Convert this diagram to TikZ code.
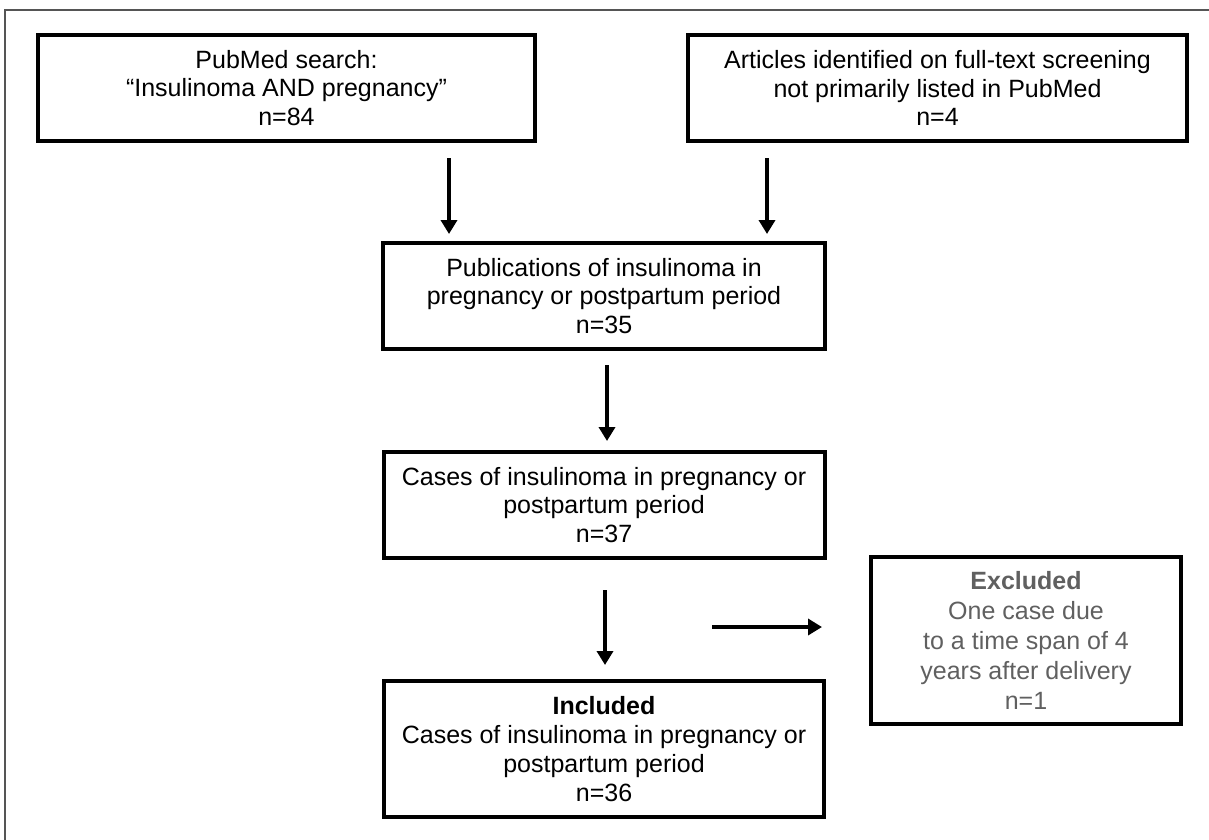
\documentclass[tikz,border=0pt]{standalone}
\usepackage{fontspec}
\setmainfont{Liberation Sans}
\usetikzlibrary{arrows.meta}
\definecolor{exgray}{HTML}{606060}
\definecolor{framegray}{HTML}{555555}
\tikzset{
  flowbox/.style={draw=black, line width=4pt, rectangle, inner sep=0pt, align=center,
    font=\fontsize{25pt}{28.75pt}\selectfont},
  arr/.style={line width=4pt, -{Triangle[length=14pt,width=16pt]}},
}
\begin{document}
\begin{tikzpicture}[x=1pt,y=-1pt]
\useasboundingbox (0,0) rectangle (1209,839);
\draw[framegray, line width=1.5pt] (5,845) -- (5,10) -- (1215,10);

\node[flowbox, minimum width=497pt, minimum height=106pt] (b1) at (286.5,88)
  {PubMed search:\\“Insulinoma AND pregnancy”\\n=84};
\node[flowbox, minimum width=499pt, minimum height=106pt] (b2) at (937.5,88)
  {Articles identified on full-text screening\\not primarily listed in PubMed\\n=4};
\node[flowbox, minimum width=442pt, minimum height=106pt] (b3) at (604,296)
  {Publications of insulinoma in\\pregnancy or postpartum period\\n=35};
\node[flowbox, minimum width=441pt, minimum height=106pt] (b4) at (604,505)
  {Cases of insulinoma in pregnancy or\\postpartum period\\n=37};
\node[flowbox, minimum width=440pt, minimum height=136pt] (b5) at (604,749)
  {\textbf{Included}\\Cases of insulinoma in pregnancy or\\postpartum period\\n=36};
\node[flowbox, text=exgray, minimum width=310pt, minimum height=167pt,
  font=\fontsize{25pt}{30pt}\selectfont] (ex) at (1026,640.5)
  {\textbf{Excluded}\\One case due\\to a time span of 4\\years after delivery\\n=1};

\coordinate (a1) at (449,0);
\coordinate (a2) at (767,0);
\coordinate (a3) at (607,0);
\coordinate (a4) at (605,0);
\coordinate (h1) at (712,627);

\draw[arr, shorten <=15pt, shorten >=7pt] (a1 |- b1.south) -- (a1 |- b3.north);
\draw[arr, shorten <=15pt, shorten >=7pt] (a2 |- b2.south) -- (a2 |- b3.north);
\draw[arr, shorten <=14pt, shorten >=9pt] (a3 |- b3.south) -- (a3 |- b4.north);
\draw[arr, shorten <=30pt, shorten >=14pt] (a4 |- b4.south) -- (a4 |- b5.north);
\draw[arr, shorten >=47pt] (h1) -- (ex.west |- h1);
\end{tikzpicture}
\end{document}
